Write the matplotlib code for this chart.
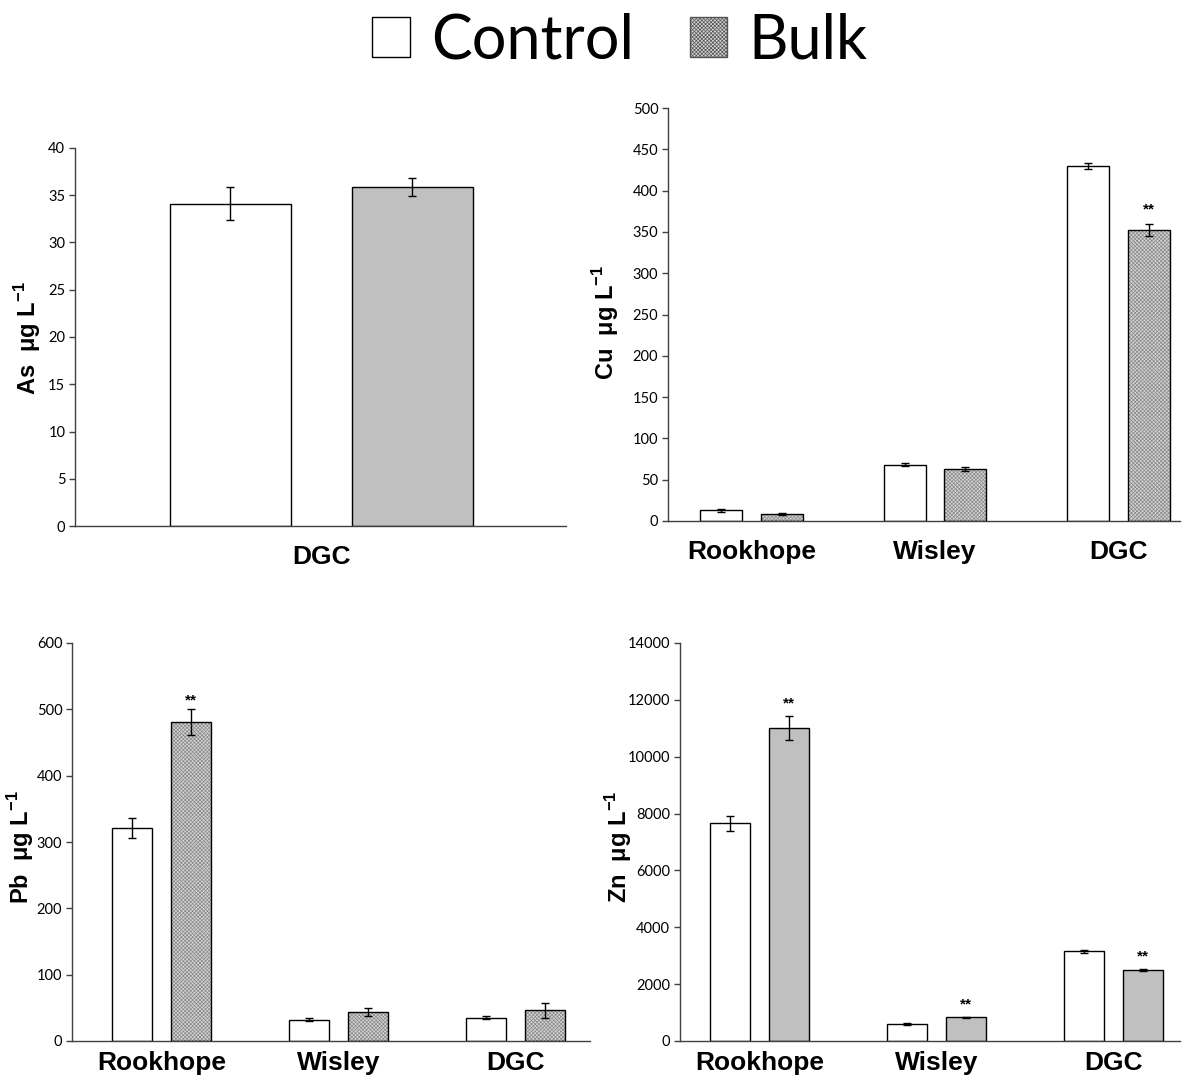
import matplotlib
matplotlib.use("Agg")
import matplotlib.pyplot as plt
from matplotlib.patches import Patch
import numpy as np

plt.rcParams["font.family"] = ["Liberation Sans", "DejaVu Sans"]
plt.rcParams["mathtext.fontset"] = "custom"
plt.rcParams["mathtext.bf"] = "Liberation Sans:bold"
plt.rcParams["mathtext.rm"] = "Liberation Sans"
plt.rcParams["hatch.linewidth"] = 0.5

# data
sites = ["Rookhope", "Wisley", "DGC"]

as_sites = ["DGC"]
as_control = [34.1]
as_control_err = [1.75]
as_bulk = [35.9]
as_bulk_err = [0.95]

cu_control = [13, 68, 430]
cu_control_err = [2, 2, 4]
cu_bulk = [8.5, 63, 352]
cu_bulk_err = [1.5, 2, 7]
cu_stars = [False, False, True]

pb_control = [321, 32, 35]
pb_control_err = [15, 2, 2]
pb_bulk = [481, 43, 46]
pb_bulk_err = [20, 6, 11]
pb_stars = [True, False, False]

zn_control = [7660, 590, 3155]
zn_control_err = [270, 30, 60]
zn_bulk = [11010, 830, 2487]
zn_bulk_err = [420, 30, 40]
zn_stars = [True, True, True]

W, H = 1189, 1084
fig = plt.figure(figsize=(W / 100, H / 100), dpi=100)

AXIS_COL = "#404040"
GRAY = "#c0c0c0"


def px_axes(x0, x1, ytop, ybot):
    return fig.add_axes([x0 / W, 1 - ybot / H, (x1 - x0) / W, (ybot - ytop) / H])


def draw_panel(ax, cats, ctrl, ctrl_err, bulk, bulk_err, stars, ylim, yticks,
               xlim, offset, width, hatched, star_off, xpad):
    x = np.arange(len(cats))
    ax.bar(x - offset, ctrl, width, color="white", edgecolor="black", linewidth=1, zorder=2)
    if hatched:
        ax.bar(x + offset, bulk, width, color="#d4d4d4", edgecolor="#8a8a8a",
               hatch="xxxxxxxxx", linewidth=0, zorder=2)
        ax.bar(x + offset, bulk, width, fill=False, edgecolor="black", linewidth=1, zorder=3)
    else:
        ax.bar(x + offset, bulk, width, color=GRAY, edgecolor="black", linewidth=1, zorder=2)
    ax.errorbar(x - offset, ctrl, yerr=ctrl_err, fmt="none", ecolor="black",
                elinewidth=1, capsize=3, zorder=4)
    ax.errorbar(x + offset, bulk, yerr=bulk_err, fmt="none", ecolor="black",
                elinewidth=1, capsize=3, zorder=4)
    for i, s in enumerate(stars):
        if s:
            ax.annotate("**", (x[i] + offset, bulk[i] + bulk_err[i]),
                        xytext=(0, star_off), textcoords="offset points",
                        ha="center", va="bottom", fontsize=11, fontweight="bold")
    ax.set_ylim(*ylim)
    ax.set_yticks(yticks)
    ax.set_xlim(*xlim)
    ax.set_xticks(x)
    ax.set_xticklabels(cats, fontsize=19, fontweight="bold")
    ax.tick_params(axis="x", length=0, pad=xpad)
    ax.tick_params(axis="y", direction="out", length=4, width=1, color=AXIS_COL,
                   labelsize=10.5, pad=3)
    for lab in ax.get_yticklabels():
        lab.set_fontfamily(["Lato", "DejaVu Sans"])
    for side in ("top", "right"):
        ax.spines[side].set_visible(False)
    for side in ("left", "bottom"):
        ax.spines[side].set_color(AXIS_COL)
        ax.spines[side].set_linewidth(1)


# As panel
ax_as = px_axes(75, 566, 148, 526)
draw_panel(ax_as, as_sites, as_control, as_control_err, as_bulk, as_bulk_err,
           [False], (0, 40), np.arange(0, 41, 5), (-1.354, 1.344), 0.5, 0.665,
           False, 4, 14)

# Cu panel
ax_cu = px_axes(668, 1180, 108, 521)
draw_panel(ax_cu, sites, cu_control, cu_control_err, cu_bulk, cu_bulk_err,
           cu_stars, (0, 500), np.arange(0, 501, 50), (-0.455, 2.335), 0.166,
           0.229, True, 6, 14)

# Pb panel
ax_pb = px_axes(72, 590, 643, 1041)
draw_panel(ax_pb, sites, pb_control, pb_control_err, pb_bulk, pb_bulk_err,
           pb_stars, (0, 600), np.arange(0, 601, 100), (-0.506, 2.42), 0.167,
           0.226, True, 1, 7)

# Zn panel
ax_zn = px_axes(680, 1180, 643, 1041)
draw_panel(ax_zn, sites, zn_control, zn_control_err, zn_bulk, zn_bulk_err,
           zn_stars, (0, 14000), np.arange(0, 14001, 2000), (-0.449, 2.376), 0.167,
           0.226, False, 4, 7)

# y-axis labels
ylab_kw = dict(rotation=90, ha="center", va="center", fontsize=17, fontweight="bold")
fig.text(28 / W, 1 - 338 / H, r"As  μg L$^{\mathbf{-1}}$", **ylab_kw)
fig.text(606 / W, 1 - 322 / H, r"Cu  μg L$^{\mathbf{-1}}$", **ylab_kw)
fig.text(21 / W, 1 - 847 / H, r"Pb  μg L$^{\mathbf{-1}}$", **ylab_kw)
fig.text(619 / W, 1 - 847 / H, r"Zn  μg L$^{\mathbf{-1}}$", **ylab_kw)

# shared legend at the top
handles = [
    Patch(facecolor="white", edgecolor="black", linewidth=1),
    Patch(facecolor="#d4d4d4", edgecolor="#555555", hatch="xxxxxxxxx", linewidth=1),
]
fig.legend(handles, ["Control", "Bulk"], loc="center", bbox_to_anchor=(620 / W, 1 - 41 / H),
           ncol=2, frameon=False, prop={"family": ["Lato", "DejaVu Sans"], "size": 44},
           handlelength=0.62, handleheight=0.62, handletextpad=0.35, columnspacing=0.9,
           borderpad=0)

fig.savefig("out.png", dpi=100)
